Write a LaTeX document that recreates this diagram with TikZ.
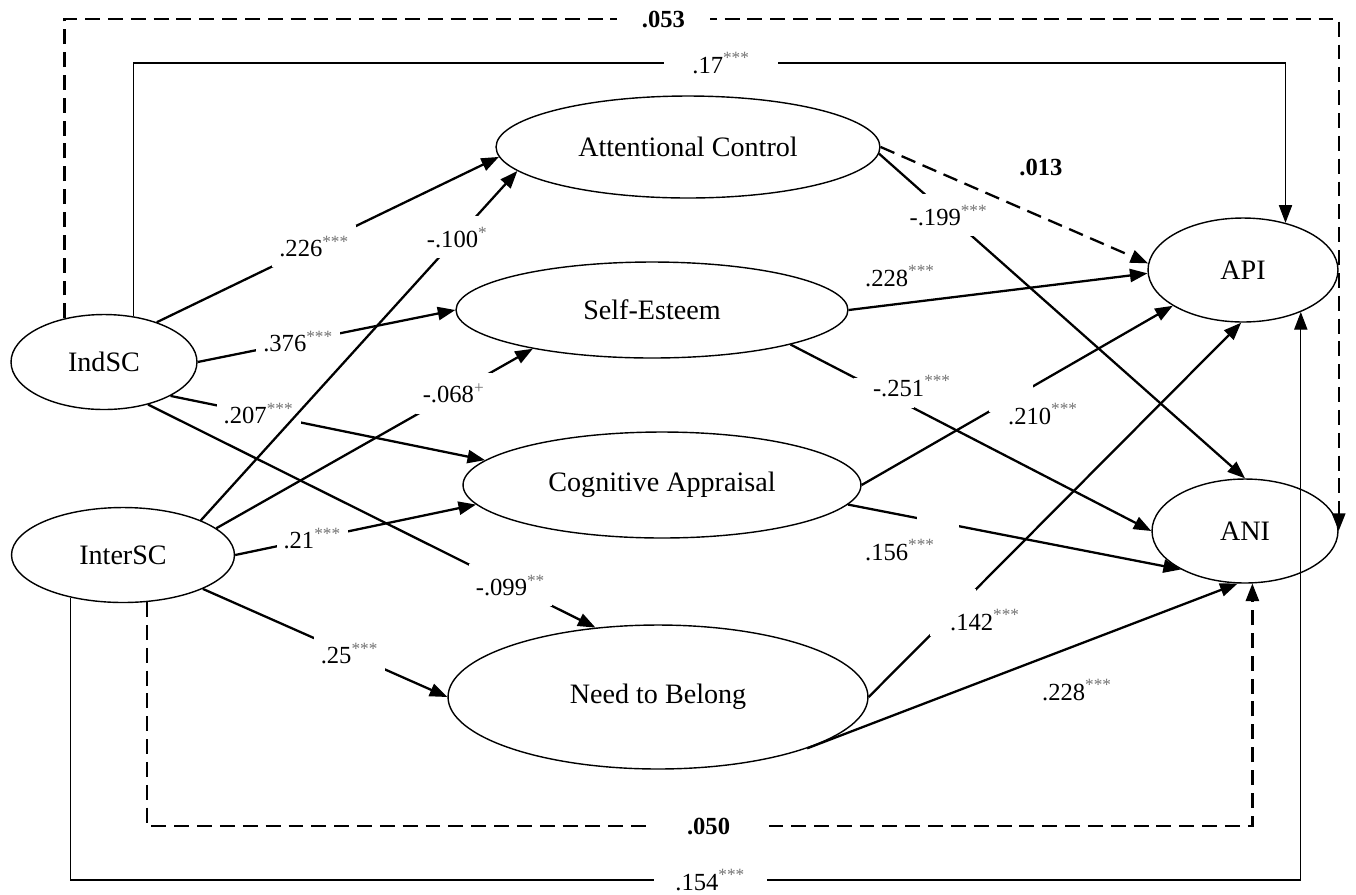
\documentclass[tikz,border=0pt]{standalone}
\usepackage{fontspec}
\setmainfont{Liberation Serif}
\usepackage{xcolor}
\usetikzlibrary{shapes.geometric,arrows.meta}
\newcommand{\sig}[1]{\textsuperscript{\textcolor{black!55}{#1}}}
\tikzset{
  var/.style={draw,ellipse,line width=0.8pt,inner sep=0pt,font=\fontsize{16}{19}\selectfont},
  pth/.style={line width=1.3pt,-{Triangle[length=10pt,width=7.5pt]}},
  dpth/.style={pth,dash pattern=on 8.5pt off 4.5pt},
  tpth/.style={line width=0.6pt,-{Triangle[length=10pt,width=7.5pt]}},
  txt/.style={inner sep=1pt,font=\fontsize{14}{16}\selectfont},
  btxt/.style={txt,font=\fontsize{14}{16}\selectfont\bfseries},
  lab/.style={txt,fill=white,inner xsep=4pt,inner ysep=6pt},
  hlab/.style={lab,inner xsep=#1},
  hblab/.style={hlab=#1,font=\fontsize{14}{16}\selectfont\bfseries},
  cut/.style={fill=white,inner sep=0pt}
}
\begin{document}
\begin{tikzpicture}[x=0.02cm,y=-0.02cm]
\useasboundingbox (0,0) rectangle (1356,894);
\node[var,minimum width=3.72cm,minimum height=1.9cm] (ind) at (104,362) {IndSC};
\node[var,minimum width=4.46cm,minimum height=1.9cm] (inter) at (123,555) {InterSC};
\node[var,minimum width=7.68cm,minimum height=2.04cm] (ac) at (688,147) {Attentional Control};
\node[var,minimum width=7.84cm,minimum height=1.92cm] (se) at (652,310) {Self-Esteem};
\node[var,minimum width=7.96cm,minimum height=2.12cm] (ca) at (662,485) {Cognitive Appraisal};
\node[var,minimum width=8.4cm,minimum height=2.88cm] (nb) at (658,697) {Need to Belong};
\node[var,minimum width=3.8cm,minimum height=2.08cm] (api) at (1243,270) {API};
\node[var,minimum width=3.72cm,minimum height=2.08cm] (ani) at (1245,531) {ANI};

\draw[dpth] (ind.132) -- (ind.132 |- 0,19) -- node[hblab=0.5cm,pos=.47] (l053) {.053} (ani.east |- 0,19) -- (ani.east);
\draw[tpth] (ind.57) -- (ind.57 |- 0,63) -- node[hlab=0.56cm,pos=.51] (l17) {.17\sig{***}} (api.48 |- 0,63) -- (api.48);
\draw[tpth] (inter.219) -- (inter.219 |- 0,880) -- node[hlab=0.43cm,inner ysep=1pt,pos=.52] (l154) {.154\sig{***}} (api.-36 |- 0,880) -- (api.-36);
\draw[dpth] (inter.-63) -- (inter.-63 |- 0,826) -- node[hblab=0.77cm,pos=.508] (l050) {.050} (ani.-82 |- 0,826) -- (ani.-82);

\draw[pth] (ind.37) -- node[lab,pos=.46] (l226) {.226\sig{***}} (ac.183);
\draw[pth] (ind.0) -- node[lab,pos=.39] (l376) {.376\sig{***}} (se.180);
\draw[pth] (ind.-27) -- node[lab,pos=.28] (l207) {.207\sig{***}} (ca.172);
\draw[pth] (ind.-44) -- node[lab,pos=.81] (l099) {-.099\sig{**}} (nb.132);
\draw[pth] (inter.0) -- node[lab,pos=.32] (l21) {.21\sig{***}} (ca.186);
\draw[pth] (inter.-23) -- node[lab,pos=.6] (l25) {.25\sig{***}} (nb.180);
\draw[pth] (inter.16) -- node[lab,pos=.75] (l068) {-.068\sig{+}} (se.198);
\draw[pth] (inter.24) -- node[lab,pos=.81] (l100) {-.100\sig{*}} (ac.188);

\draw[pth] (ac.-2) -- node[lab,pos=.19] (l199) {-.199\sig{***}} (ani.90);
\draw[dpth] (ac.0) -- (api.176);
\node[btxt] (l013) at (1041,167) {.013};
\draw[pth] (se.0) -- (api.182);
\node[txt] (l228a) at (900,276) {.228\sig{***}};
\draw[pth] (se.-14) -- node[cut,pos=.26,minimum width=1.2cm,minimum height=.6cm] (c251) {} (ani.180);
\node[txt] (l251) at (912,386) {-.251\sig{***}};
\draw[pth] (ca.0) -- node[cut,pos=.48,minimum width=.88cm,minimum height=.54cm] (c210) {} (api.207);
\node[txt] (l210) at (1043,414) {.210\sig{***}};
\draw[pth] (ca.-6) -- node[cut,pos=.27,minimum width=.84cm,minimum height=.5cm] (c156) {} (ani.211);
\node[txt] (l156) at (900,550) {.156\sig{***}};
\draw[pth] (nb.0) -- node[cut,pos=.226,minimum width=.92cm,minimum height=.94cm] (c142) {} (api.268);
\node[txt] (l142) at (985,620) {.142\sig{***}};
\draw[pth] (nb.-19) -- (ani.262);
\node[txt] (l228b) at (1077,690) {.228\sig{***}};
\end{tikzpicture}
\end{document}
